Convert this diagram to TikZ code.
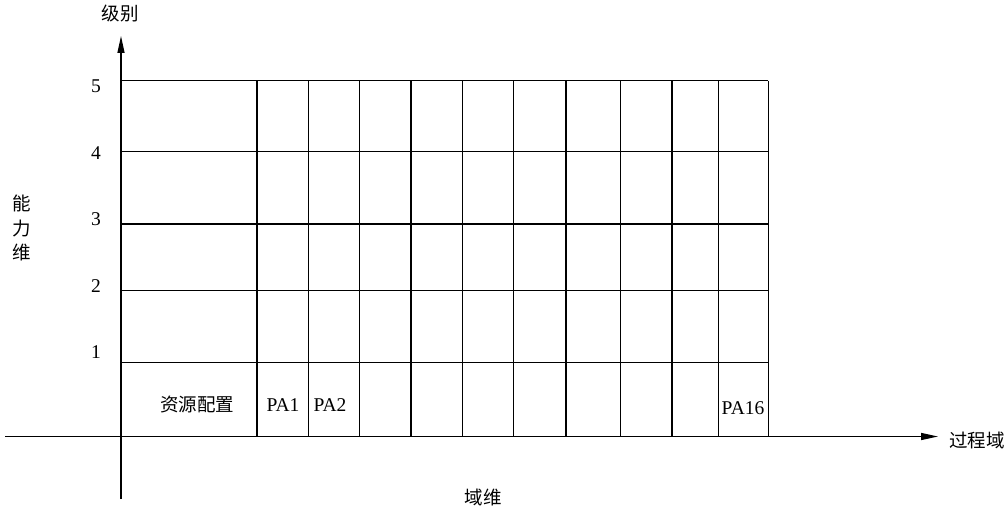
\documentclass[tikz,border=0pt]{standalone}
\usepackage{fontspec}
\setmainfont{Liberation Serif}
\newfontfamily\cjk{Noto Sans CJK SC}
\usetikzlibrary{arrows.meta}
\begin{document}
\begin{tikzpicture}[x=1pt,y=-1pt,
  gridline/.style={line width=1.4pt},
  axisline/.style={line width=1.4pt,-{Triangle[length=17pt,width=7pt]}},
  lbl/.style={font=\fontsize{19.5}{22}\selectfont,inner sep=0pt},
  clbl/.style={font=\cjk\fontsize{18.5}{24.5}\selectfont,inner sep=0pt,align=center}]
\useasboundingbox (0,0) rectangle (1006,511);
% axes
\coordinate (ybot) at (121,499);
\coordinate (ytop) at (121,36);
\coordinate (xleft) at (5,436.5);
\coordinate (xright) at (938,436.5);
\draw[axisline] (ybot) -- (ytop);
\draw[axisline] (xleft) -- (xright);
% horizontal grid lines
\foreach \yy in {80.7,151.7,224,290.7,362.7}
  \draw[gridline] (121,\yy) -- (768.3,\yy);
% vertical grid lines
\foreach \xx in {257,308.3,359.7,411,462.3,513.3,566,620.7,672,718.7,768.3}
  \draw[gridline] (\xx,80.7) -- (\xx,436.5);
% level labels
\node[lbl] (l5) at (96,86) {5};
\node[lbl] (l4) at (96,153) {4};
\node[lbl] (l3) at (96,219) {3};
\node[lbl] (l2) at (96,286) {2};
\node[lbl] (l1) at (96,352) {1};
% cell labels
\node[clbl] (res) at (197,405) {资源配置};
\node[lbl] (pa1) at (283,405) {PA1};
\node[lbl] (pa2) at (330,405) {PA2};
\node[lbl] (pa16) at (743,408) {PA16};
% axis titles
\node[clbl] (jibie) at (120,13) {级别};
\node[clbl] (nengli) at (22,228) {能\\力\\维};
\node[clbl] (guocheng) at (977,440) {过程域};
\node[clbl] (yuwei) at (483,497) {域维};
\end{tikzpicture}
\end{document}
